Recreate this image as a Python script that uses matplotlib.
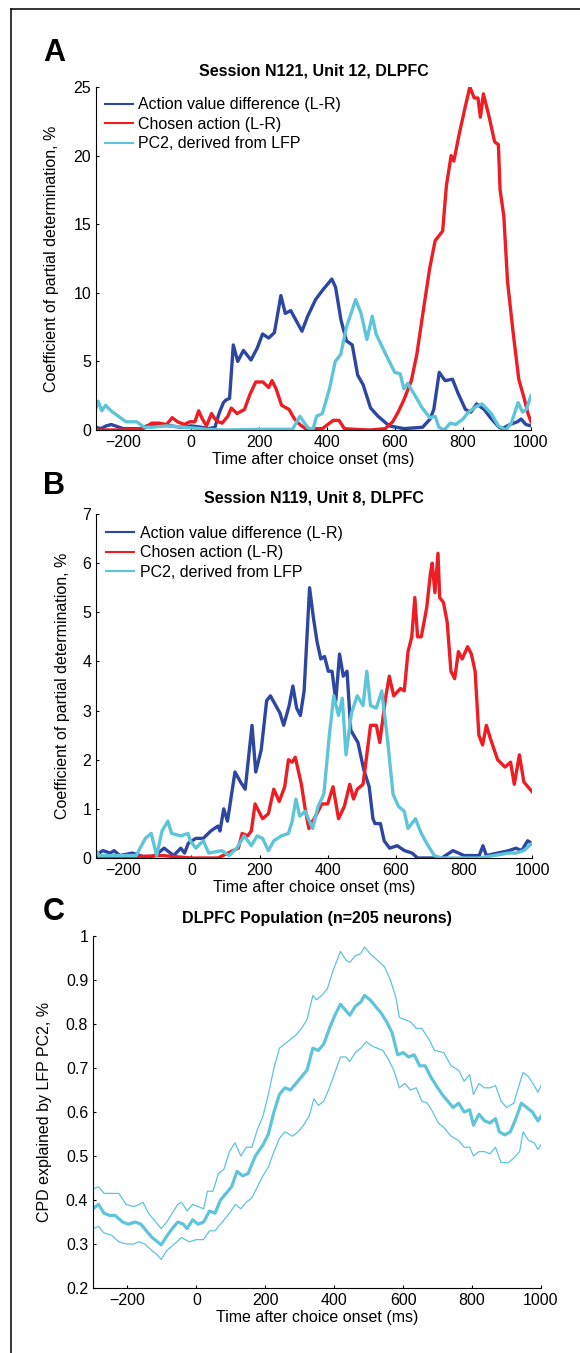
import numpy as np
import matplotlib
matplotlib.use("Agg")
import matplotlib.pyplot as plt
from matplotlib.lines import Line2D
from matplotlib.ticker import FuncFormatter

plt.rcParams['font.family'] = ['Liberation Sans', 'DejaVu Sans']
plt.rcParams['font.size'] = 11.5

BLUE = '#2D46A0'
RED = '#EE1D23'
CYAN = '#5EC4DA'

# ---- panel A: Session N121, Unit 12 ----
a_blue_t = [-280, -265, -250, -235, -200, -170, -150, -130, -100, -60, -30, 0, 30, 50, 70, 82, 95, 103, 113,
            124, 137, 154, 176, 195, 210, 228, 245, 264, 277, 293, 326, 343, 366, 387, 414, 425, 441, 457,
            474, 490, 506, 528, 550, 583, 626, 681, 703, 714, 730, 747, 769, 785, 807, 823, 840, 862, 884,
            906, 916, 938, 960, 971, 985, 1000]
a_blue_v = [0.2, 0.1, 0.3, 0.4, 0.1, 0.1, 0.1, 0.3, 0.4, 0.3, 0.2, 0.3, 0.2, 0.1, 0.2, 1.2, 2.0, 2.2, 2.3,
            6.2, 5.0, 5.8, 5.1, 6.0, 7.0, 6.7, 7.1, 9.8, 8.5, 8.7, 7.2, 8.3, 9.5, 10.2, 11.0, 10.4, 8.0, 6.5,
            6.2, 4.0, 3.3, 1.6, 1.0, 0.3, 0.1, 0.2, 0.8, 1.5, 4.2, 3.6, 3.7, 2.7, 1.5, 1.3, 1.9, 1.5, 0.8,
            0.2, 0.1, 0.4, 0.6, 0.8, 0.4, 0.3]
a_red_t = [-280, -200, -140, -116, -95, -72, -56, -40, -20, -4, 11, 22, 33, 45, 60, 70, 80, 91, 108, 118,
           135, 157, 173, 190, 211, 228, 238, 250, 266, 288, 304, 320, 342, 364, 386, 418, 435, 451, 480,
           527, 571, 593, 609, 626, 648, 664, 680, 702, 718, 740, 751, 765, 773, 789, 806, 820, 833, 844,
           851, 860, 877, 893, 904, 909, 920, 931, 947, 964, 980, 991, 1000]
a_red_v = [0.0, 0.0, 0.1, 0.5, 0.5, 0.4, 0.9, 0.6, 0.4, 0.6, 0.6, 1.4, 0.8, 0.3, 1.2, 0.8, 0.6, 0.5, 1.0, 1.6,
           1.2, 1.5, 2.6, 3.5, 3.5, 3.1, 3.6, 3.0, 1.8, 1.5, 0.8, 0.4, 0.0, 0.1, 0.1, 0.7, 0.7, 0.1, 0.05,
           0.0, 0.1, 0.6, 1.3, 2.2, 3.6, 5.5, 8.2, 11.8, 13.8, 14.5, 17.8, 20.0, 19.6, 21.6, 23.5, 25.0, 24.2,
           24.2, 22.8, 24.5, 22.8, 21.0, 20.8, 17.5, 15.6, 10.8, 7.2, 3.7, 2.3, 1.2, 0.6]
a_cyan_t = [-280, -274, -263, -252, -236, -214, -192, -160, -138, -116, -72, -18, 45, 100, 200, 298, 320,
            342, 358, 369, 386, 407, 424, 440, 457, 484, 500, 517, 533, 544, 571, 599, 615, 626, 637, 659,
            680, 702, 718, 729, 745, 762, 778, 800, 816, 838, 856, 883, 904, 926, 942, 962, 975, 986, 1000]
a_cyan_v = [1.6, 2.1, 1.4, 1.8, 1.4, 1.0, 0.6, 0.6, 0.2, 0.2, 0.3, 0.2, 0.05, 0.0, 0.05, 0.05, 1.0, 0.2,
            0.0, 1.0, 1.2, 3.0, 5.0, 5.5, 7.5, 9.5, 8.5, 6.6, 8.3, 7.0, 5.6, 4.2, 4.1, 3.0, 3.4, 2.5, 1.6,
            0.9, 1.0, 0.2, 0.0, 0.5, 0.4, 0.8, 1.3, 1.7, 1.9, 1.2, 0.3, 0.0, 0.5, 2.0, 1.3, 1.5, 2.5]

# ---- panel B: Session N119, Unit 8 ----
b_blue_t = [-280, -271, -260, -238, -227, -210, -173, -129, -107, -80, -52, -31, -20, -9, 13, 35, 57, 78,
            84, 95, 106, 128, 144, 158, 178, 189, 205, 221, 232, 260, 271, 287, 298, 309, 320, 331, 347,
            358, 369, 380, 391, 402, 413, 424, 435, 446, 457, 468, 489, 506, 522, 533, 539, 555, 566, 582,
            604, 626, 648, 664, 735, 768, 801, 845, 856, 866, 899, 932, 953, 970, 987, 1000]
b_blue_v = [0.05, 0.1, 0.15, 0.1, 0.15, 0.05, 0.1, 0.0, 0.05, 0.2, 0.05, 0.2, 0.1, 0.3, 0.4, 0.4, 0.55,
            0.65, 0.55, 1.0, 0.75, 1.75, 1.55, 1.4, 2.7, 1.75, 2.2, 3.2, 3.3, 2.95, 2.7, 3.1, 3.5, 3.05,
            2.9, 3.4, 5.5, 4.9, 4.4, 4.05, 4.1, 3.8, 3.8, 3.2, 4.15, 3.7, 3.8, 2.6, 2.35, 1.8, 1.45, 0.8,
            0.7, 0.7, 0.35, 0.2, 0.25, 0.15, 0.1, 0.0, 0.0, 0.15, 0.05, 0.05, 0.25, 0.05, 0.1, 0.15, 0.2,
            0.15, 0.35, 0.3]
b_red_t = [-280, -200, -86, 0, 78, 122, 138, 149, 165, 176, 187, 209, 226, 242, 258, 274, 285, 296, 305,
           323, 334, 345, 350, 361, 383, 400, 416, 432, 449, 465, 476, 487, 504, 526, 543, 553, 570, 581,
           594, 614, 625, 636, 647, 656, 664, 675, 691, 702, 707, 715, 724, 729, 740, 751, 762, 773, 784,
           795, 811, 822, 833, 844, 855, 866, 877, 899, 921, 937, 948, 963, 976, 1000]
b_red_v = [0.0, 0.02, 0.05, 0.0, 0.0, 0.15, 0.2, 0.5, 0.45, 0.55, 1.1, 0.8, 0.9, 1.4, 1.15, 1.45, 2.0,
           1.95, 2.05, 1.5, 1.0, 0.6, 0.7, 0.8, 1.1, 1.1, 1.45, 0.8, 1.05, 1.5, 1.2, 1.4, 1.5, 2.7, 2.7,
           2.35, 3.25, 3.7, 3.3, 3.45, 3.4, 4.2, 4.5, 5.3, 4.5, 4.5, 5.1, 5.8, 6.0, 5.4, 6.2, 5.3, 5.2, 4.8,
           3.8, 3.65, 4.2, 4.05, 4.3, 4.15, 3.8, 2.5, 2.3, 2.7, 2.45, 2.0, 1.85, 1.95, 1.5, 2.1, 1.55, 1.35]
b_cyan_t = [-280, -271, -238, -162, -135, -118, -102, -86, -69, -58, -31, -10, -3, 13, 35, 51, 89, 111,
            133, 155, 176, 193, 209, 226, 242, 264, 285, 296, 307, 318, 334, 356, 372, 389, 405, 418, 432,
            443, 454, 470, 487, 504, 515, 526, 543, 559, 576, 592, 608, 625, 636, 658, 675, 691, 713, 735,
            844, 888, 932, 953, 976, 1000]
b_cyan_v = [0.15, 0.05, 0.05, 0.05, 0.4, 0.5, 0.05, 0.55, 0.75, 0.5, 0.45, 0.5, 0.35, 0.2, 0.35, 0.1,
            0.15, 0.05, 0.2, 0.45, 0.25, 0.45, 0.4, 0.15, 0.35, 0.45, 0.5, 0.75, 1.2, 0.85, 0.95, 0.6, 1.05,
            1.3, 2.5, 3.3, 2.9, 3.25, 2.1, 2.95, 3.3, 3.1, 3.8, 3.1, 3.05, 3.4, 2.4, 1.3, 1.05, 0.95, 0.6,
            0.8, 0.5, 0.3, 0.05, 0.0, 0.0, 0.05, 0.1, 0.1, 0.15, 0.3]

# ---- panel C: population mean and bounds ----
c_mean_t = [-300, -284, -268, -252, -236, -214, -198, -177, -161, -145, -129, -113, -102, -86, -70, -54,
            -38, -27, -11, 5, 21, 38, 54, 70, 86, 102, 118, 134, 150, 171, 193, 209, 225, 241, 257, 273,
            289, 305, 321, 338, 354, 370, 386, 402, 418, 434, 445, 461, 477, 488, 504, 520, 536, 552, 568,
            584, 600, 616, 632, 648, 664, 680, 696, 713, 729, 745, 761, 777, 793, 804, 820, 836, 852, 868,
            879, 895, 911, 927, 943, 959, 975, 991, 1000]
c_mean_v = [0.38, 0.39, 0.37, 0.365, 0.365, 0.35, 0.345, 0.35, 0.345, 0.33, 0.315, 0.305, 0.298, 0.318,
            0.335, 0.35, 0.345, 0.335, 0.355, 0.345, 0.35, 0.375, 0.37, 0.4, 0.415, 0.43, 0.465, 0.455, 0.46,
            0.5, 0.525, 0.55, 0.6, 0.64, 0.655, 0.65, 0.665, 0.68, 0.695, 0.745, 0.74, 0.755, 0.79, 0.82,
            0.845, 0.83, 0.82, 0.84, 0.85, 0.865, 0.855, 0.84, 0.825, 0.805, 0.78, 0.73, 0.735, 0.725, 0.73,
            0.705, 0.705, 0.68, 0.66, 0.64, 0.625, 0.61, 0.62, 0.6, 0.605, 0.57, 0.595, 0.58, 0.575, 0.585,
            0.555, 0.548, 0.555, 0.585, 0.62, 0.61, 0.6, 0.58, 0.59]
c_upper_t = [-300, -284, -268, -246, -225, -204, -182, -166, -155, -139, -118, -102, -86, -70, -54, -43,
             -27, -11, 5, 21, 32, 48, 64, 80, 96, 112, 129, 145, 161, 177, 193, 209, 225, 241, 257, 273,
             289, 305, 321, 338, 348, 364, 380, 396, 418, 434, 445, 461, 477, 488, 504, 525, 546, 563, 579,
             589, 605, 621, 638, 654, 675, 691, 718, 739, 761, 777, 793, 804, 820, 836, 852, 868, 884, 900,
             921, 938, 948, 964, 980, 991, 1000]
c_upper_v = [0.425, 0.43, 0.415, 0.415, 0.415, 0.39, 0.385, 0.39, 0.395, 0.37, 0.35, 0.335, 0.35, 0.37,
             0.39, 0.395, 0.375, 0.39, 0.385, 0.38, 0.42, 0.42, 0.46, 0.47, 0.51, 0.53, 0.5, 0.52, 0.52,
             0.56, 0.59, 0.64, 0.7, 0.745, 0.755, 0.765, 0.775, 0.79, 0.81, 0.865, 0.855, 0.865, 0.88, 0.92,
             0.965, 0.945, 0.94, 0.955, 0.96, 0.975, 0.96, 0.945, 0.93, 0.9, 0.86, 0.815, 0.81, 0.805, 0.79,
             0.79, 0.765, 0.74, 0.735, 0.705, 0.695, 0.67, 0.685, 0.64, 0.665, 0.655, 0.655, 0.66, 0.625,
             0.61, 0.62, 0.665, 0.69, 0.68, 0.66, 0.645, 0.66]
c_lower_t = [-300, -284, -268, -246, -225, -204, -182, -166, -150, -129, -113, -102, -86, -64, -43, -21, 0,
             21, 38, 54, 75, 96, 113, 129, 145, 161, 177, 193, 209, 225, 241, 257, 279, 295, 311, 327, 341,
             354, 370, 386, 402, 418, 434, 445, 461, 477, 493, 509, 525, 541, 557, 573, 589, 605, 621, 638,
             654, 670, 686, 702, 718, 739, 761, 777, 793, 804, 820, 836, 852, 868, 884, 905, 921, 938, 948,
             964, 980, 991, 1000]
c_lower_v = [0.335, 0.34, 0.325, 0.32, 0.305, 0.3, 0.3, 0.305, 0.3, 0.285, 0.275, 0.265, 0.285, 0.3, 0.315,
             0.305, 0.31, 0.31, 0.33, 0.33, 0.35, 0.37, 0.39, 0.38, 0.395, 0.405, 0.43, 0.455, 0.475, 0.51,
             0.54, 0.555, 0.545, 0.555, 0.57, 0.59, 0.63, 0.615, 0.625, 0.655, 0.69, 0.725, 0.725, 0.715,
             0.735, 0.745, 0.76, 0.75, 0.745, 0.74, 0.72, 0.695, 0.655, 0.665, 0.65, 0.655, 0.625, 0.62, 0.6,
             0.575, 0.565, 0.545, 0.535, 0.52, 0.52, 0.5, 0.51, 0.51, 0.505, 0.52, 0.485, 0.485, 0.495, 0.51,
             0.555, 0.535, 0.53, 0.515, 0.525]

x_ticks = [-200, 0, 200, 400, 600, 800, 1000]
legend_labels = ['Action value difference (L-R)', 'Chosen action (L-R)', 'PC2, derived from LFP']
xlab = 'Time after choice onset (ms)'
ylab_unit = 'Coefficient of partial determination, %'
ylab_pop = 'CPD explained by LFP PC2, %'

W, H = 580, 1353
fig = plt.figure(figsize=(W / 100, H / 100), dpi=100)


def px_axes(left, top, right, bottom):
    return fig.add_axes([left / W, 1 - bottom / H, (right - left) / W, (bottom - top) / H])


def style(ax):
    for s in ['top', 'right']:
        ax.spines[s].set_visible(False)
    for s in ['left', 'bottom']:
        ax.spines[s].set_linewidth(0.8)
    ax.tick_params(direction='in', length=2.5, width=0.8, labelsize=11.5, pad=3.5)
    ax.set_xticks(x_ticks)
    ax.set_xlabel(xlab, labelpad=1.5)


def unit_panel(ax, data, ymax, title, leg_anchor):
    lines = []
    for (t, v), c in zip(data, [BLUE, RED, CYAN]):
        ax.plot(t, v, color=c, lw=2.4, solid_joinstyle='round')
        lines.append(Line2D([], [], color=c, lw=1.5))
    ax.set_xlim(-280, 1000)
    ax.set_ylim(0, ymax)
    style(ax)
    ax.set_title(title, fontweight='bold', fontsize=11.5, pad=8.5)
    ax.set_ylabel(ylab_unit)
    ax.legend(lines, legend_labels, loc='upper left', bbox_to_anchor=leg_anchor, frameon=False,
              borderpad=0, borderaxespad=0, handlelength=1.75, handletextpad=0.35, labelspacing=0.28,
              fontsize=11.5)


axA = px_axes(96, 87, 531, 430)
unit_panel(axA, [(a_blue_t, a_blue_v), (a_red_t, a_red_v), (a_cyan_t, a_cyan_v)], 25,
           'Session N121, Unit 12, DLPFC', (0.02, 0.97))
axA.set_yticks([0, 5, 10, 15, 20, 25])
axA.yaxis.set_label_coords(-0.085, 0.5)

axB = px_axes(96, 514, 532, 858)
unit_panel(axB, [(b_blue_t, b_blue_v), (b_red_t, b_red_v), (b_cyan_t, b_cyan_v)], 7,
           'Session N119, Unit 8, DLPFC', (0.024, 0.966))
axB.set_yticks(range(0, 8))
axB.yaxis.set_label_coords(-0.06, 0.5)

axC = px_axes(93, 936, 541, 1288)
axC.plot(c_upper_t, c_upper_v, color=CYAN, lw=0.9)
axC.plot(c_lower_t, c_lower_v, color=CYAN, lw=0.9)
axC.plot(c_mean_t, c_mean_v, color=CYAN, lw=2.3)
axC.set_xlim(-300, 1000)
axC.set_ylim(0.2, 1.0)
style(axC)
axC.set_yticks(np.arange(2, 11) / 10)
axC.yaxis.set_major_formatter(FuncFormatter(lambda v, p: '%g' % v))
axC.set_title('DLPFC Population (n=205 neurons)', fontweight='bold', fontsize=11.5, pad=9)
axC.set_ylabel(ylab_pop)
axC.yaxis.set_label_coords(-0.0915, 0.5)

# panel letters
for letter, yc in [('A', 53), ('B', 486), ('C', 912)]:
    fig.text(43 / W, 1 - yc / H, letter, fontsize=22, fontweight='bold', ha='left', va='center')

# outer frame (top and left edges)
fig.add_artist(Line2D([11 / W, 11 / W], [0, 1 - 9 / H], transform=fig.transFigure, color='black', lw=1.1))
fig.add_artist(Line2D([11 / W, 1], [1 - 9 / H, 1 - 9 / H], transform=fig.transFigure, color='black', lw=1.1))

fig.savefig('out.png', dpi=100)
